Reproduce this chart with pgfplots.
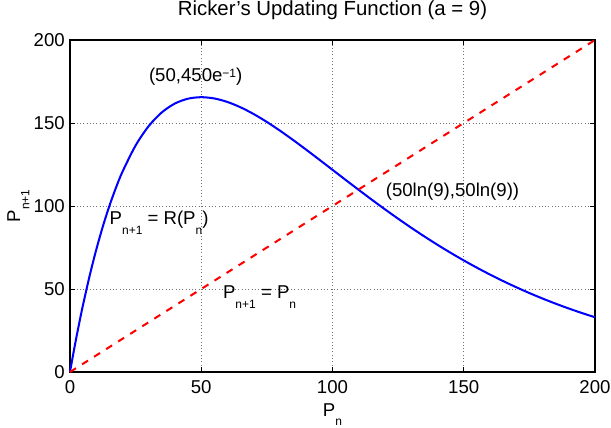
\documentclass[border=0pt]{standalone}
\usepackage{pgfplots}
\pgfplotsset{compat=1.18}
\usepackage{fontspec}
\setmainfont{Liberation Sans}
\newcommand{\sub}[1]{\raisebox{-0.5em}{\fontsize{8}{8}\selectfont #1}}
\newcommand{\sups}[1]{\raisebox{3.1pt}{\fontsize{8}{8}\selectfont #1}}
\begin{document}
\begin{tikzpicture}
\begin{axis}[
  at={(0,0)}, anchor=south west,
  scale only axis, width=350pt, height=221.33pt,
  xmin=0, xmax=200, ymin=0, ymax=200,
  xtick={0,50,100,150,200}, ytick={0,50,100,150,200},
  grid=major,
  major grid style={black!55, line width=0.5pt, dash pattern=on 0.5pt off 1.7pt},
  tick align=inside, major tick length=3.5pt,
  tick style={black, line width=0.6pt},
  axis line style={line width=1pt},
  font=\fontsize{12.4}{14}\selectfont,
  ticklabel style={font=\fontsize{12.4}{14}\selectfont},
  /pgf/number format/assume math mode=true,
  xticklabel style={anchor=base, inner sep=0pt, yshift=-14.2pt},
  yticklabel style={anchor=east, inner sep=0pt, xshift=-3.3pt},
  title={Ricker’s Updating Function (a = 9)},
  title style={font=\fontsize{13.6}{15}\selectfont, at={(axis description cs:0.5,1.0452)}, anchor=base, inner sep=0pt},
  xlabel={P\sub{n}},
  ylabel={P\sub{n+1}},
  xlabel style={at={(axis description cs:0.5,-0.1346)}, anchor=base, inner sep=0pt},
  ylabel style={at={(axis description cs:-0.0952,0.5)}, anchor=base, rotate=0, inner sep=0pt},
  clip=false,
]
\addplot[blue, line width=1.35pt, smooth] coordinates {
(0,0) (1,8.822) (2,17.294) (3,25.428) (4,33.232) (5,40.718) (7.5,58.098)
(10,73.686) (12.5,87.615) (15,100.010) (17.5,110.988) (20,120.658) (25,136.469)
(30,148.179) (35,156.424) (40,161.758) (45,164.661) (50,165.546) (55,164.771)
(60,162.645) (65,159.431) (70,155.356) (75,150.613) (80,145.366) (85,139.753)
(90,133.892) (95,127.881) (100,121.802) (105,115.721) (110,109.695) (115,103.768)
(120,97.975) (125,92.346) (130,86.900) (135,81.655) (140,76.621) (145,71.805)
(150,67.213) (155,62.843) (160,58.697) (165,54.771) (170,51.061) (175,47.561)
(180,44.264) (185,41.165) (190,38.255) (195,35.525) (200,32.968)
};
\addplot[red, line width=1.35pt, dash pattern=on 4.7pt off 4.8pt] coordinates {(0,0) (200,200)};
\node[anchor=base west, inner sep=0pt] at (axis cs:30,174.9) {(50,450e\sups{−1})};
\node[anchor=base west, inner sep=0pt] at (axis cs:15,88.6) {P\sub{n+1} = R(P\sub{n})};
\node[anchor=base west, inner sep=0pt] at (axis cs:120.2,105.6) {(50ln(9),50ln(9))};
\node[anchor=base west, inner sep=0pt] at (axis cs:58.2,44) {P\sub{n+1} = P\sub{n}};
\end{axis}
\pgfresetboundingbox
\path[use as bounding box] (-46.67pt,-37.33pt) rectangle (360.67pt,248pt);
\end{tikzpicture}
\end{document}
